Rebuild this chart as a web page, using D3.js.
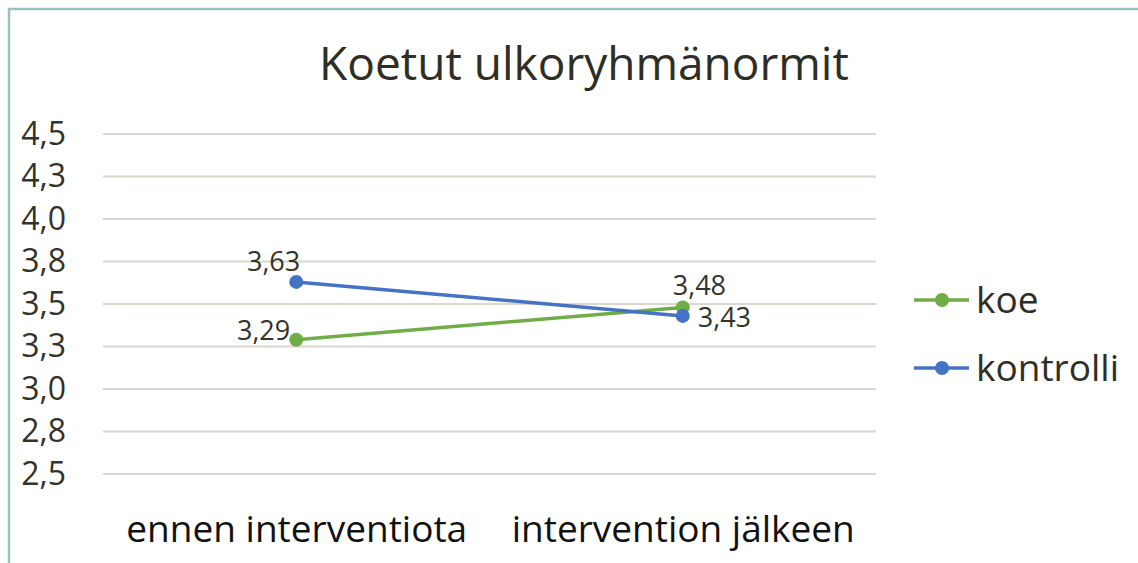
<!DOCTYPE html>
<html>
<head>
<meta charset="utf-8">
<script src="https://cdn.jsdelivr.net/npm/d3@7"></script>
<style>
  body { margin: 0; background: #fff; }
  svg { display: block; font-family: "Open Sans", "Noto Sans", sans-serif; }
</style>
</head>
<body>
<svg id="chart"></svg>
<script>
const categories = ['ennen interventiota', 'intervention jälkeen'];
const seriesNames = ['koe', 'kontrolli'];
const koeValues = [3.29, 3.48];
const kontrolliValues = [3.63, 3.43];
const yTicks = [2.5, 2.75, 3.0, 3.25, 3.5, 3.75, 4.0, 4.25, 4.5];
const title = 'Koetut ulkoryhmänormit';

const colors = ['#70ad47', '#4472c4'];

const width = 1138, height = 563;
const margin = {top: 134, right: 262, bottom: 89, left: 103};

const svg = d3.select('#chart')
    .attr('width', width)
    .attr('height', height);

// frame
svg.append('rect')
    .attr('x', 9).attr('y', 9)
    .attr('width', width + 20).attr('height', height + 20)
    .attr('fill', 'none')
    .attr('stroke', '#9bc2c2')
    .attr('stroke-width', 2.5);

const innerW = width - margin.left - margin.right;
const innerH = height - margin.top - margin.bottom;

const chart = svg.append('g')
    .attr('transform', `translate(${margin.left},${margin.top})`);

const xScale = d3.scalePoint()
    .domain(categories)
    .range([0, innerW])
    .padding(0.5);

const yScale = d3.scaleLinear()
    .domain([2.5, 4.5])
    .range([innerH, 0]);

const fmt = v => d3.format('.1f')(v).replace('.', ',');
const fmt2 = v => d3.format('.2f')(v).replace('.', ',');

// gridlines
chart.append('g')
    .selectAll('line')
    .data(yTicks)
    .join('line')
    .attr('x1', 0).attr('x2', innerW)
    .attr('y1', d => yScale(d)).attr('y2', d => yScale(d))
    .attr('stroke', '#dcd7ce')
    .attr('stroke-width', 2);

// y axis labels
const yAxis = d3.axisLeft(yScale).tickValues(yTicks).tickFormat(fmt).tickSize(0).tickPadding(37);
const yAxisG = chart.append('g').call(yAxis);
yAxisG.select('.domain').remove();
yAxisG.selectAll('text')
    .attr('font-size', 32)
    .attr('font-family', '"Open Sans", sans-serif')
    .attr('fill', '#33332a');

// x axis labels
const xAxis = d3.axisBottom(xScale).tickSize(0).tickPadding(42);
const xAxisG = chart.append('g')
    .attr('transform', `translate(0,${innerH})`)
    .call(xAxis);
xAxisG.select('.domain').remove();
xAxisG.selectAll('text')
    .attr('font-size', 37)
    .attr('font-family', '"Open Sans", sans-serif')
    .attr('fill', '#111');

// title
svg.append('text')
    .attr('x', 584).attr('y', 80)
    .attr('text-anchor', 'middle')
    .attr('font-size', 46)
    .attr('fill', '#2e2e24')
    .text(title);

const series = [
  {name: seriesNames[0], values: koeValues, color: colors[0]},
  {name: seriesNames[1], values: kontrolliValues, color: colors[1]}
];

const line = d3.line()
    .x((d, i) => xScale(categories[i]))
    .y(d => yScale(d));

series.forEach(s => {
  chart.append('path')
      .datum(s.values)
      .attr('fill', 'none')
      .attr('stroke', s.color)
      .attr('stroke-width', 3.5)
      .attr('d', line);
});
series.forEach(s => {
  chart.selectAll(null)
      .data(s.values)
      .join('circle')
      .attr('cx', (d, i) => xScale(categories[i]))
      .attr('cy', d => yScale(d))
      .attr('r', 7)
      .attr('fill', s.color);
});

// data labels: placement per point (anchor, dx, dy)
const labelPos = {
  koe: [['end', -6, 0], ['start', -10, -12]],
  kontrolli: [['end', 4, -11], ['start', 15, 11]]
};
series.forEach(s => {
  chart.selectAll(null)
      .data(s.values)
      .join('text')
      .attr('x', (d, i) => xScale(categories[i]) + labelPos[s.name][i][1])
      .attr('y', (d, i) => yScale(d) + labelPos[s.name][i][2])
      .attr('text-anchor', (d, i) => labelPos[s.name][i][0])
      .attr('font-size', 27)
      .attr('fill', '#33332a')
      .text(fmt2);
});

// legend
const legend = svg.append('g').attr('transform', 'translate(914,300)');
series.forEach((s, i) => {
  const g = legend.append('g').attr('transform', `translate(0,${i * 68})`);
  g.append('line').attr('x1', 0).attr('x2', 55)
      .attr('stroke', s.color).attr('stroke-width', 3.5);
  g.append('circle').attr('cx', 28).attr('r', 7).attr('fill', s.color);
  g.append('text').attr('x', 62).attr('y', 13)
      .attr('font-size', 37).attr('fill', '#2e2e24')
      .text(s.name);
});
</script>
</body>
</html>
